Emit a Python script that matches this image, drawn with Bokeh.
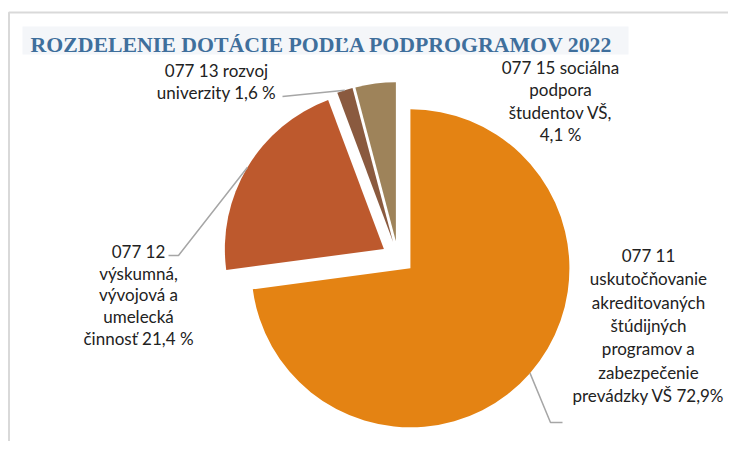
import numpy as np
from bokeh.plotting import figure
from bokeh.models import Range1d
from bokeh.core.properties import value
from bokeh.embed import file_html
from bokeh.resources import INLINE

# ---- data ----
title = "ROZDELENIE DOTÁCIE PODĽA PODPROGRAMOV 2022"
codes = ["077 11", "077 12", "077 13", "077 15"]
shares = [72.9, 21.4, 1.6, 4.1]
label_texts = [
    "077 11\nuskutočňovanie\nakreditovaných\nštúdijných\nprogramov a\nzabezpečenie\nprevádzky VŠ 72,9%",
    "077 12\nvýskumná,\nvývojová a\numelecká\nčinnosť 21,4 %",
    "077 13 rozvoj\nuniverzity 1,6 %",
    "077 15 sociálna\npodpora\nštudentov VŠ,\n4,1 %",
]
colors = ["#E48313", "#BD592D", "#8A5A3F", "#9E835A"]

# ---- layout (screen pixel coordinates, y flipped) ----
W, H = 728, 441
def Y(sy):
    return 449 - sy

cx, cy = 397.5, Y(257)
R = 159
EXPL = 16.5

vals = np.array(shares, dtype=float)
frac = vals / vals.sum()
cum = np.concatenate([[0.0], np.cumsum(frac)])
start = np.pi / 2 - 2 * np.pi * cum[:-1]
end = np.pi / 2 - 2 * np.pi * cum[1:]
mid = (start + end) / 2
xs = cx + EXPL * np.cos(mid)
ys = cy + EXPL * np.sin(mid)
ax = xs + R * np.cos(mid)
ay = ys + R * np.sin(mid)

p = figure(width=W, height=H, x_range=Range1d(0, W), y_range=Range1d(449 - H, 449),
           output_backend="svg", toolbar_location=None, min_border=0)
p.axis.visible = False
p.grid.visible = False
p.outline_line_color = None
p.background_fill_color = "white"
p.border_fill_color = "white"

# frame of the chart area
p.line(x=[8.5, 8.5, 760], y=[-20, Y(12), Y(12)], line_color="#d9d9d9", line_width=2)

# faint title band
p.quad(left=[22], right=[628], bottom=[Y(54)], top=[Y(26)], fill_color="#f4f6f9",
       line_color=None)
p.text(x=[30], y=[Y(44)], text=[title], text_font=value("Liberation Serif"),
       text_font_style="bold", text_font_size="21.8px", text_color="#3F6F9C",
       text_baseline="alphabetic", text_align="left")

# pie slices
p.wedge(x=xs, y=ys, radius=R, start_angle=start, end_angle=end, direction="clock",
        fill_color=colors, line_color=None)

# leader lines
lead_color = "#a6a6a6"
p.line(x=[ax[0], 550, 562], y=[ay[0], Y(422), Y(422)], line_color=lead_color, line_width=1.5)
p.line(x=[ax[1], 178, 168], y=[ay[1], Y(255), Y(255)], line_color=lead_color, line_width=1.5)
p.line(x=[ax[2], 282], y=[ay[2], Y(96)], line_color=lead_color, line_width=1.5)

# labels
FS = 17.0
lab_x = [648, 138, 216, 560]
lab_y = [325, 294.5, 81, 100.5]
lab_lh = [22.7, 21.3, 21.0, 21.5]
for i in range(len(codes)):
    p.text(x=[lab_x[i]], y=[Y(lab_y[i])], text=[label_texts[i]],
           text_font=value("Lato"), text_font_size=f"{FS}px", text_color="#222222",
           text_align="center", text_baseline="middle",
           text_line_height=lab_lh[i] / (1.2 * FS))

open("out.html", "w").write(file_html(p, INLINE))
